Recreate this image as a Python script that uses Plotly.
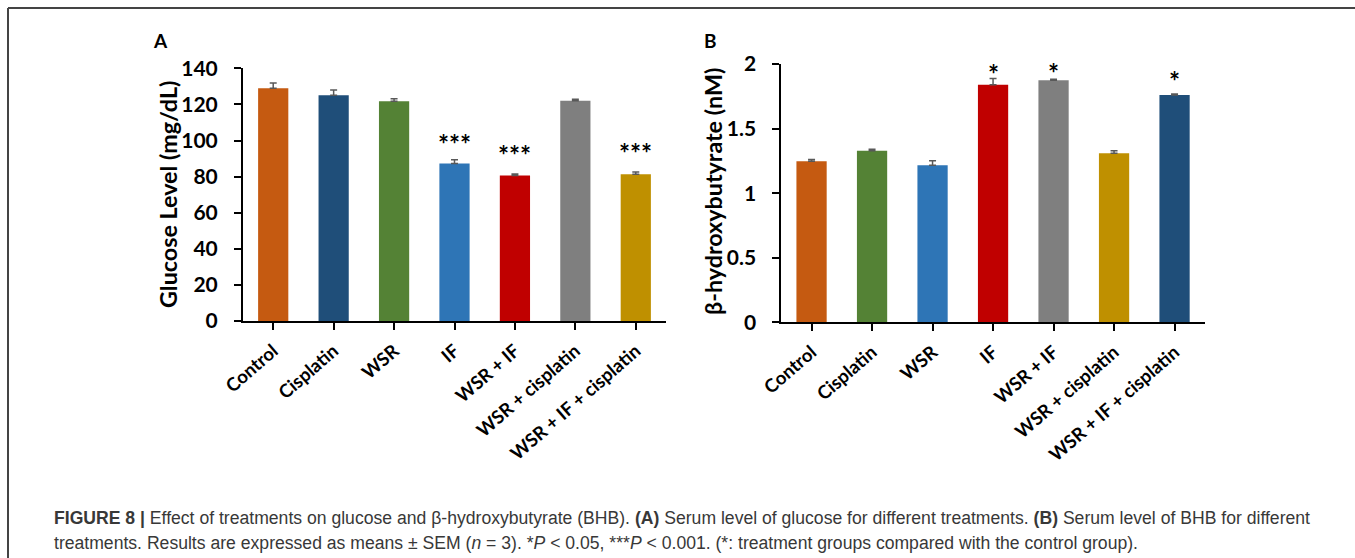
import plotly.graph_objects as go

W, H = 1355, 558

# ---------------- data ----------------
glucose_categories = ["Control", "Cisplatin", "WSR", "IF", "WSR + IF",
                      "WSR + cisplatin", "WSR + IF + cisplatin"]
glucose_values = [128.9, 125.0, 121.8, 87.3, 80.6, 122.0, 81.3]
glucose_sem = [3.0, 3.0, 1.3, 2.0, 0.9, 0.9, 1.3]
glucose_colors = ["#C55A11", "#1F4E79", "#548235", "#2E75B6", "#C00000",
                  "#7F7F7F", "#BF9000"]
glucose_sig = ["", "", "", "***", "***", "", "***"]
glucose_sig_y = [None, None, None, 100.8, 94.8, None, 95.6]
glucose_ticks = [0, 20, 40, 60, 80, 100, 120, 140]

bhb_categories = ["Control", "Cisplatin", "WSR", "IF", "WSR + IF",
                  "WSR + cisplatin", "WSR + IF + cisplatin"]
bhb_values = [1.248, 1.328, 1.216, 1.840, 1.875, 1.309, 1.760]
bhb_sem = [0.013, 0.013, 0.035, 0.048, 0.008, 0.019, 0.008]
bhb_colors = ["#C55A11", "#548235", "#2E75B6", "#C00000", "#7F7F7F",
              "#BF9000", "#1F4E79"]
bhb_sig = ["", "", "", "*", "*", "", "*"]
bhb_sig_y = [None, None, None, 1.98, 1.987, None, 1.92]
bhb_ticks = [0, 0.5, 1, 1.5, 2]
bhb_ticklabels = ["0", "0.5", "1", "1.5", "2"]

caption_line1 = ("<b>FIGURE 8 |</b> Effect of treatments on glucose and β-hydroxybutyrate (BHB). "
                 "<b>(A)</b> Serum level of glucose for different treatments. "
                 "<b>(B)</b> Serum level of BHB for different")
caption_line2 = ("treatments. Results are expressed as means ± SEM (<i>n</i> = 3). "
                 "*<i>P</i> &lt; 0.05, ***<i>P</i> &lt; 0.001. "
                 "(*: treatment groups compared with the control group).")


def px(x):
    return x / W


def py(y):
    return 1 - y / H


FONT = "Lato"
ERR_COLOR = "#595959"

fig = go.Figure()

fig.add_trace(go.Bar(
    x=glucose_categories, y=glucose_values,
    marker=dict(color=glucose_colors, line=dict(width=0)),
    width=0.5,
    error_y=dict(type="data", array=glucose_sem, symmetric=False,
                 arrayminus=[0] * len(glucose_sem),
                 color=ERR_COLOR, thickness=1.5, width=3.5),
    xaxis="x", yaxis="y", showlegend=False,
))

fig.add_trace(go.Bar(
    x=bhb_categories, y=bhb_values,
    marker=dict(color=bhb_colors, line=dict(width=0)),
    width=0.5,
    error_y=dict(type="data", array=bhb_sem, symmetric=False,
                 arrayminus=[0] * len(bhb_sem),
                 color=ERR_COLOR, thickness=1.5, width=3.5),
    xaxis="x2", yaxis="y2", showlegend=False,
))

axis_common = dict(
    showline=True, linecolor="black", linewidth=2,
    ticks="outside", ticklen=7, tickwidth=2, tickcolor="black",
    showgrid=False, zeroline=False, automargin=False,
)

xfont = dict(family=FONT, size=18.5, color="black", weight="bold")
yfont = dict(family=FONT, size=21, color="black", weight="bold")

fig.update_layout(
    width=W, height=H,
    margin=dict(l=0, r=0, t=0, b=0, pad=0, autoexpand=False),
    paper_bgcolor="white", plot_bgcolor="white",
    bargap=0.5,
    xaxis=dict(domain=[px(243), px(666)], anchor="y", type="category",
               range=[-0.5, 6.5], tickangle=-41, tickfont=xfont,
               ticklabelstandoff=3, **axis_common),
    yaxis=dict(domain=[py(321), py(68.3)], anchor="x", range=[0, 140],
               tickvals=glucose_ticks, tickfont=yfont,
               ticklabelstandoff=12, **axis_common),
    xaxis2=dict(domain=[px(781.3), px(1204.8)], anchor="y2", type="category",
                range=[-0.5, 6.5], tickangle=-41, tickfont=xfont,
                ticklabelstandoff=3, **axis_common),
    yaxis2=dict(domain=[py(322.3), py(64.1)], anchor="x2", range=[0, 2],
                tickvals=bhb_ticks, ticktext=bhb_ticklabels, tickfont=yfont,
                ticklabelstandoff=12, **axis_common),
)

annotations = []
STAR_SIZE = 26
# significance stars
for i, (s, yv) in enumerate(zip(glucose_sig, glucose_sig_y)):
    if s:
        annotations.append(dict(x=glucose_categories[i], y=yv, xref="x", yref="y",
                                text="<b>" + s + "</b>", showarrow=False,
                                yanchor="middle", yshift=-5,
                                font=dict(family=FONT, size=STAR_SIZE, color="black")))
for i, (s, yv) in enumerate(zip(bhb_sig, bhb_sig_y)):
    if s:
        annotations.append(dict(x=bhb_categories[i], y=yv, xref="x2", yref="y2",
                                text="<b>" + s + "</b>", showarrow=False,
                                yanchor="middle", yshift=-7,
                                font=dict(family=FONT, size=STAR_SIZE, color="black")))

# axis titles
annotations.append(dict(x=px(168), y=py(195), xref="paper", yref="paper",
                        text="<b>Glucose Level (mg/dL)</b>", textangle=-90,
                        showarrow=False, xanchor="center", yanchor="middle",
                        font=dict(family=FONT, size=23.3, color="black")))
annotations.append(dict(x=px(713), y=py(192), xref="paper", yref="paper",
                        text="<b>β-hydroxybutyrate (nM)</b>", textangle=-90,
                        showarrow=False, xanchor="center", yanchor="middle",
                        font=dict(family=FONT, size=23.3, color="black")))
# panel letters
annotations.append(dict(x=px(160), y=py(40), xref="paper", yref="paper",
                        text="<b>A</b>", showarrow=False,
                        xanchor="center", yanchor="middle",
                        font=dict(family=FONT, size=19, color="black")))
annotations.append(dict(x=px(710), y=py(41), xref="paper", yref="paper",
                        text="<b>B</b>", showarrow=False,
                        xanchor="center", yanchor="middle",
                        font=dict(family=FONT, size=19, color="black")))
# caption
annotations.append(dict(x=px(52), y=py(518), xref="paper", yref="paper",
                        text=caption_line1, showarrow=False,
                        xanchor="left", yanchor="middle", align="left",
                        font=dict(family="Liberation Sans", size=17.6, color="#383838")))
annotations.append(dict(x=px(52), y=py(543), xref="paper", yref="paper",
                        text=caption_line2, showarrow=False,
                        xanchor="left", yanchor="middle", align="left",
                        font=dict(family="Liberation Sans", size=17.6, color="#383838")))

fig.update_layout(annotations=annotations)

# frame lines
fig.add_shape(type="line", xref="paper", yref="paper",
              x0=px(8), x1=1.0, y0=py(8), y1=py(8),
              line=dict(color="#444444", width=2))
fig.add_shape(type="line", xref="paper", yref="paper",
              x0=px(8), x1=px(8), y0=py(8), y1=0.0,
              line=dict(color="#444444", width=2))

fig.write_html("out.html")
